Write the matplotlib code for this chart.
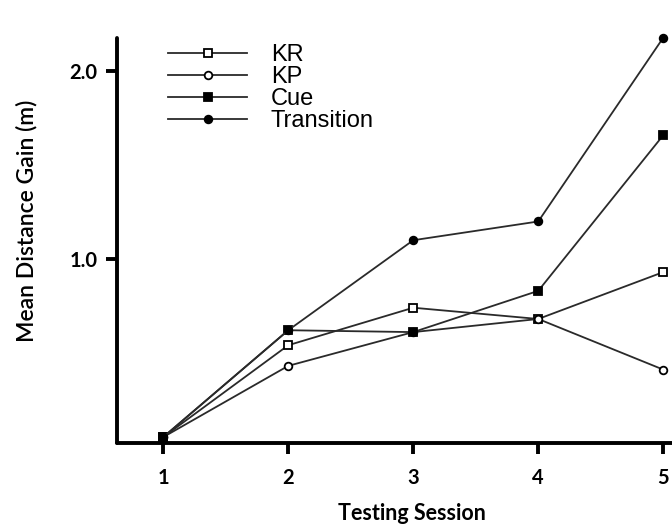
import numpy as np
import matplotlib.pyplot as plt

# mean distance gain per testing session, one list per feedback group
sessions = [1, 2, 3, 4, 5]
kr = [0.05, 0.54, 0.74, 0.68, 0.93]
kp = [0.05, 0.43, 0.61, 0.68, 0.41]
cue = [0.05, 0.62, 0.61, 0.83, 1.66]
transition = [0.05, 0.62, 1.10, 1.20, 2.18]

yticks = [1.0, 2.0]
ytick_labels = ["1.0", "2.0"]

fig = plt.figure(figsize=(6.72, 5.26), dpi=100)
ax = fig.add_axes([0.1741, 0.1583, 0.8259, 0.770])

line_kw = dict(color="#2a2a2a", lw=1.3, markersize=5.5, markeredgewidth=1.3,
               markeredgecolor="black", clip_on=False)
ax.plot(sessions, kr, marker="s", markerfacecolor="white", label="KR", **line_kw)
ax.plot(sessions, kp, marker="o", markerfacecolor="white", label="KP", **line_kw)
ax.plot(sessions, cue, marker="s", markerfacecolor="black", label="Cue", **line_kw)
ax.plot(sessions, transition, marker="o", markerfacecolor="black", label="Transition", **line_kw)

ax.set_xlim(0.63, 5.07)
ax.set_ylim(0.02, 2.18)

for s in ["top", "right"]:
    ax.spines[s].set_visible(False)
for s in ["left", "bottom"]:
    ax.spines[s].set_linewidth(2.8)
    ax.spines[s].set_capstyle("round")

ax.set_xticks(sessions)
ax.set_xticklabels([str(s) for s in sessions], fontfamily="Lato", fontweight="bold", fontsize=14.5)
ax.set_yticks(yticks)
ax.set_yticklabels(ytick_labels, fontfamily="Lato", fontweight="bold", fontsize=14.5)
ax.tick_params(axis="x", direction="out", length=8, width=2.8, pad=10)
ax.tick_params(axis="y", direction="out", length=8, width=2.8, pad=6)

ax.set_xlabel("Testing Session", fontfamily="Lato", fontweight="bold", fontsize=15.5)
ax.set_ylabel("Mean Distance Gain (m)", fontfamily="Lato", fontweight="semibold", fontsize=16.5)
ax.xaxis.set_label_coords(0.532, -0.149)
ax.yaxis.set_label_coords(-0.144, 0.548)

leg = fig.legend(loc="upper left", bbox_to_anchor=(0.25, 0.916), frameon=False,
                 prop={"family": "Liberation Sans", "size": 17},
                 handlelength=3.35, handletextpad=1.0, labelspacing=0.0,
                 borderpad=0, borderaxespad=0)

plt.savefig("out.png", dpi=100)
